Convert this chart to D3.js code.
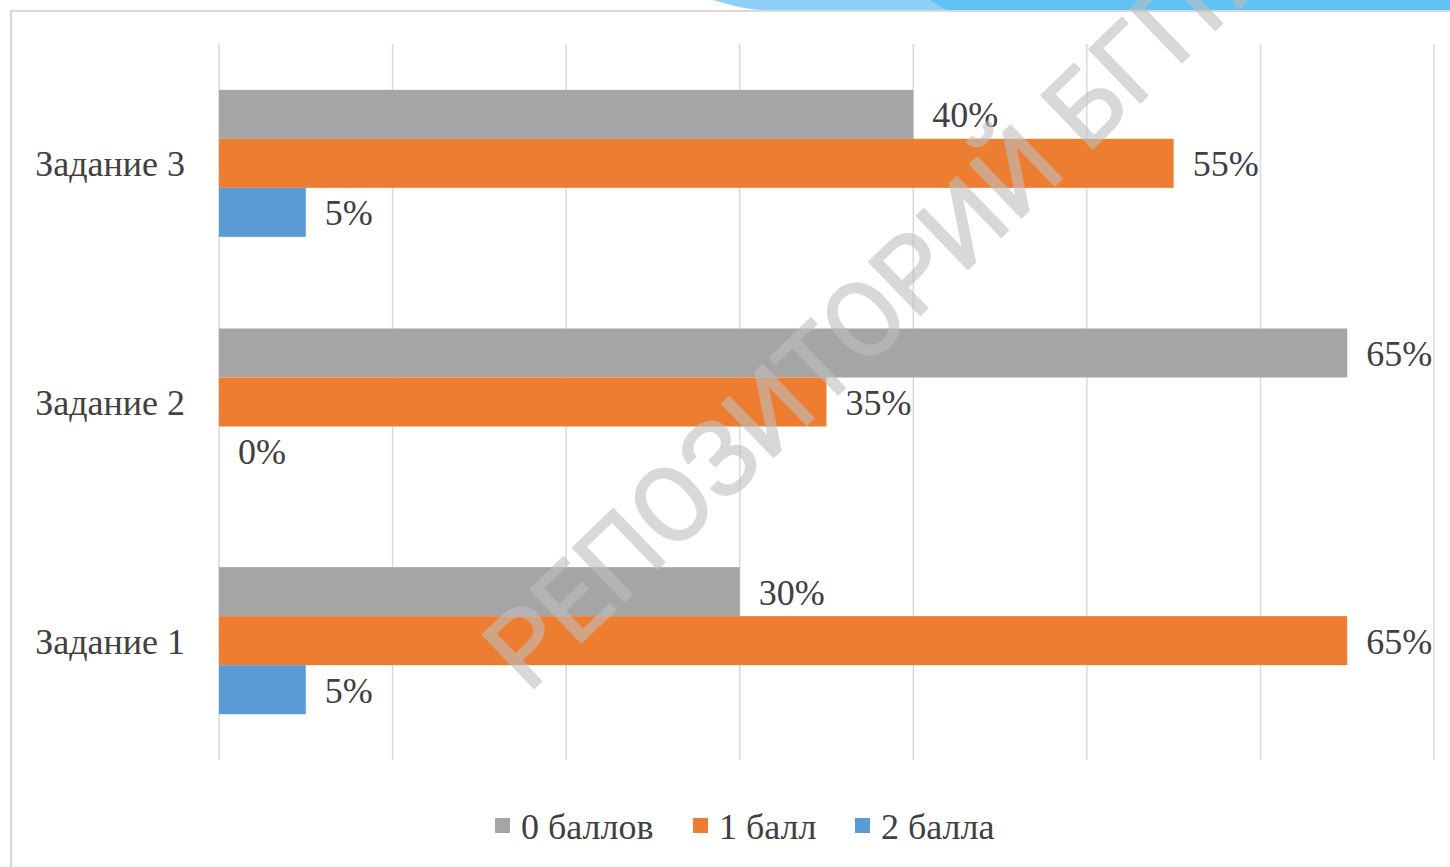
<!DOCTYPE html>
<html>
<head>
<meta charset="utf-8">
<script src="https://cdn.jsdelivr.net/npm/d3@7"></script>
<style>
  body { margin: 0; background: #fff; }
  svg { display: block; }
  .serif { font-family: "Liberation Serif", "Times New Roman", Tinos, "DejaVu Serif", serif; }
</style>
</head>
<body>
<div id="chart"></div>
<script>
// data (percent of students)
var categories = ["Задание 1", "Задание 2", "Задание 3"];
var seriesNames = ["0 баллов", "1 балл", "2 балла"];
var zeroPoints = [30, 65, 40];
var onePoint = [65, 35, 55];
var twoPoints = [5, 0, 5];
var xTicks = [0, 10, 20, 30, 40, 50, 60, 70];

var colors = ["#a5a5a5", "#ed7d31", "#5b9bd5"];
var width = 1450, height = 867;

var svg = d3.select("#chart")
  .append("svg")
    .attr("width", width)
    .attr("height", height);

// top decoration and frame
svg.append("path")
  .attr("d", "M713,0 C730,5 745,9 760,10 L1450,10 L1450,0 Z")
  .attr("fill", "#8ed0f8");
svg.append("path")
  .attr("d", "M930,0 C936,4 942,8 948,10 L1450,10 L1450,0 Z")
  .attr("fill", "#62c1f5");
svg.append("line")
  .attr("x1", 10).attr("x2", width).attr("y1", 11).attr("y2", 11)
  .attr("stroke", "#d9d9d9").attr("stroke-width", 2);
svg.append("line")
  .attr("x1", 11).attr("x2", 11).attr("y1", 10).attr("y2", height)
  .attr("stroke", "#d9d9d9").attr("stroke-width", 2.5);

var x = d3.scaleLinear()
  .domain([0, 70])
  .range([219, 1434]);

var y = d3.scaleBand()
  .domain(categories.slice().reverse())
  .range([44, 760])
  .paddingInner(0.384)
  .paddingOuter(0.192);

var ySub = d3.scaleBand()
  .domain(seriesNames)
  .range([0, y.bandwidth()]);

// gridlines
svg.append("g")
  .selectAll("line")
  .data(xTicks)
  .enter().append("line")
    .attr("x1", function(d) { return x(d); })
    .attr("x2", function(d) { return x(d); })
    .attr("y1", 44)
    .attr("y2", 760)
    .attr("stroke", "#d9d9d9")
    .attr("stroke-width", 1.5);

var rows = [];
categories.forEach(function(c, i) {
  rows.push({cat: c, s: seriesNames[0], v: zeroPoints[i], k: 0});
  rows.push({cat: c, s: seriesNames[1], v: onePoint[i], k: 1});
  rows.push({cat: c, s: seriesNames[2], v: twoPoints[i], k: 2});
});

svg.append("g")
  .selectAll("rect")
  .data(rows)
  .enter().append("rect")
    .attr("x", x(0))
    .attr("y", function(d) { return y(d.cat) + ySub(d.s); })
    .attr("width", function(d) { return x(d.v) - x(0); })
    .attr("height", ySub.bandwidth())
    .attr("fill", function(d) { return colors[d.k]; });

// value labels
svg.append("g")
  .selectAll("text")
  .data(rows)
  .enter().append("text")
    .attr("class", "serif")
    .attr("x", function(d) { return x(d.v) + 19; })
    .attr("y", function(d) { return y(d.cat) + ySub(d.s) + ySub.bandwidth() / 2; })
    .attr("dy", "0.36em")
    .attr("font-size", 36)
    .attr("fill", "#404040")
    .text(function(d) { return d.v + "%"; });

// category labels
svg.append("g")
  .selectAll("text")
  .data(categories)
  .enter().append("text")
    .attr("class", "serif")
    .attr("x", 185)
    .attr("y", function(d) { return y(d) + y.bandwidth() / 2; })
    .attr("dy", "0.36em")
    .attr("text-anchor", "end")
    .attr("font-size", 36)
    .attr("fill", "#404040")
    .text(function(d) { return d; });

// legend
var legendX = [495, 693, 855];
var legend = svg.append("g")
  .selectAll("g")
  .data(seriesNames)
  .enter().append("g")
    .attr("transform", function(d, i) { return "translate(" + legendX[i] + ",818)"; });
legend.append("rect")
  .attr("width", 15).attr("height", 15)
  .attr("fill", function(d, i) { return colors[i]; });
legend.append("text")
  .attr("class", "serif")
  .attr("x", 26)
  .attr("y", 8)
  .attr("dy", "0.36em")
  .attr("font-size", 36)
  .attr("fill", "#404040")
  .text(function(d) { return d; });

// watermark
svg.append("text")
  .attr("transform", "translate(528,694) rotate(-44)")
  .attr("font-family", "Roboto, 'Open Sans', sans-serif")
  .attr("font-weight", 400)
  .attr("font-size", 104)
  .attr("fill", "#bfbfbf")
  .attr("stroke", "#bfbfbf")
  .attr("stroke-width", 2)
  .attr("stroke-linejoin", "round")
  .attr("opacity", 0.6)
  .text("РЕПОЗИТОРИЙ БГПУ");
</script>
</body>
</html>
